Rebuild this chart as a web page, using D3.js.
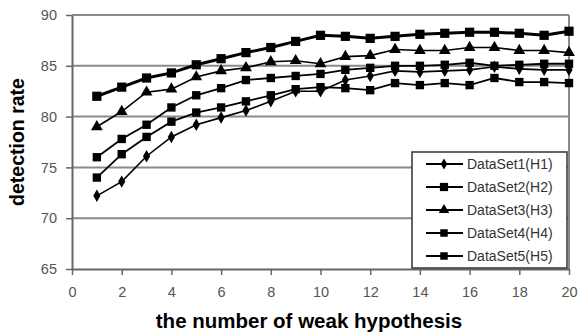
<!DOCTYPE html>
<html>
<head>
<meta charset="utf-8">
<script src="https://cdn.jsdelivr.net/npm/d3@7"></script>
<style>
  body { margin: 0; background: #fff; }
  svg { display: block; font-family: Arial, "Liberation Sans", sans-serif; }
</style>
</head>
<body>
<svg width="578" height="336"></svg>
<script>
const xValues = d3.range(1, 21);
const seriesNames = ["DataSet1(H1)", "DataSet2(H2)", "DataSet3(H3)", "DataSet4(H4)", "DataSet5(H5)"];
const ds1 = [72.2, 73.6, 76.1, 78.0, 79.2, 79.9, 80.6, 81.5, 82.5, 82.5, 83.6, 84.0, 84.5, 84.4, 84.5, 84.6, 84.9, 84.7, 84.6, 84.6];
const ds2 = [82.0, 82.9, 83.8, 84.3, 85.1, 85.7, 86.3, 86.8, 87.4, 88.0, 87.9, 87.7, 87.9, 88.1, 88.2, 88.3, 88.3, 88.2, 88.0, 88.4];
const ds3 = [79.0, 80.5, 82.4, 82.7, 83.9, 84.5, 84.8, 85.4, 85.5, 85.2, 85.9, 86.0, 86.6, 86.5, 86.5, 86.8, 86.8, 86.5, 86.5, 86.3];
const ds4 = [76.0, 77.8, 79.2, 80.9, 82.1, 82.8, 83.6, 83.8, 84.0, 84.2, 84.6, 84.8, 85.0, 85.0, 85.1, 85.3, 85.0, 85.1, 85.2, 85.2];
const ds5 = [74.0, 76.3, 78.0, 79.5, 80.4, 80.9, 81.5, 82.1, 82.7, 82.9, 82.8, 82.6, 83.3, 83.1, 83.3, 83.1, 83.8, 83.4, 83.4, 83.3];
const xTicks = [0, 2, 4, 6, 8, 10, 12, 14, 16, 18, 20];
const yTicks = [65, 70, 75, 80, 85, 90];

const allSeries = [ds1, ds2, ds3, ds4, ds5];
const markers = [
  { type: d3.symbolDiamond, size: 45, width: 1.6 },
  { type: d3.symbolSquare, size: 85, width: 3 },
  { type: d3.symbolTriangle, size: 60, width: 1.6 },
  { type: d3.symbolSquare, size: 70, width: 1.8 },
  { type: d3.symbolSquare, size: 70, width: 1.8 }
];

const svg = d3.select("svg");
const plotL = 72, plotR = 569, plotT = 15, plotB = 269;

const x = d3.scaleLinear().domain([0, 20]).range([plotL, plotR]);
const y = d3.scaleLinear().domain([65, 90]).range([plotB, plotT]);

// gridlines (incl. top border at 90)
svg.append("g")
  .selectAll("line")
  .data(yTicks.filter(v => v > 65))
  .join("line")
  .attr("x1", plotL).attr("x2", plotR)
  .attr("y1", d => y(d)).attr("y2", d => y(d))
  .attr("stroke", "#8a8a8a")
  .attr("stroke-width", 2);

// plot border right
svg.append("line")
  .attr("x1", plotR).attr("x2", plotR).attr("y1", plotT).attr("y2", plotB)
  .attr("stroke", "#8a8a8a").attr("stroke-width", 2);

// axes
const xAxis = svg.append("g")
  .attr("transform", `translate(0,${plotB})`)
  .call(d3.axisBottom(x).tickValues(xTicks).tickSize(6).tickPadding(12).tickSizeOuter(0));
const yAxis = svg.append("g")
  .attr("transform", `translate(${plotL},0)`)
  .call(d3.axisLeft(y).tickValues(yTicks).tickSize(6).tickPadding(9).tickSizeOuter(0));

[xAxis, yAxis].forEach(g => {
  g.select(".domain").attr("stroke", "#666").attr("stroke-width", 2);
  g.selectAll(".tick line").attr("stroke", "#666").attr("stroke-width", 1.5);
  g.selectAll(".tick text").attr("fill", "#555").attr("font-size", 14.5)
    .attr("font-family", "Arial, 'Liberation Sans', sans-serif");
});

// lines and markers
const line = d3.line().x((d, i) => x(xValues[i])).y(d => y(d));

allSeries.forEach((vals, k) => {
  const m = markers[k];
  svg.append("path")
    .datum(vals)
    .attr("d", line)
    .attr("fill", "none")
    .attr("stroke", "#000")
    .attr("stroke-width", m.width);
  svg.append("g")
    .selectAll("path")
    .data(vals)
    .join("path")
    .attr("transform", (d, i) => `translate(${x(xValues[i])},${y(d)})`)
    .attr("d", d3.symbol().type(m.type).size(m.size))
    .attr("fill", "#000");
});

// axis titles
svg.append("text")
  .attr("x", 309).attr("y", 328)
  .attr("text-anchor", "middle")
  .attr("font-size", 20.5).attr("font-weight", "bold")
  .text("the number of weak hypothesis");

svg.append("text")
  .attr("transform", `translate(24,${(plotT + plotB) / 2}) rotate(-90)`)
  .attr("text-anchor", "middle")
  .attr("font-size", 19.5).attr("font-weight", "bold")
  .text("detection rate");

// legend
const lg = svg.append("g").attr("transform", "translate(412,152)");
lg.append("rect")
  .attr("width", 155).attr("height", 116)
  .attr("fill", "#fff").attr("stroke", "#333").attr("stroke-width", 1.5);

seriesNames.forEach((name, k) => {
  const m = markers[k];
  const cy = 12 + k * 23;
  lg.append("line")
    .attr("x1", 14).attr("x2", 51).attr("y1", cy).attr("y2", cy)
    .attr("stroke", "#000").attr("stroke-width", 1.8);
  lg.append("path")
    .attr("transform", `translate(32,${cy})`)
    .attr("d", d3.symbol().type(m.type).size(m.size * 0.8))
    .attr("fill", "#000");
  lg.append("text")
    .attr("x", 55).attr("y", cy + 5)
    .attr("font-size", 14).attr("fill", "#333")
    .text(name);
});
</script>
</body>
</html>
